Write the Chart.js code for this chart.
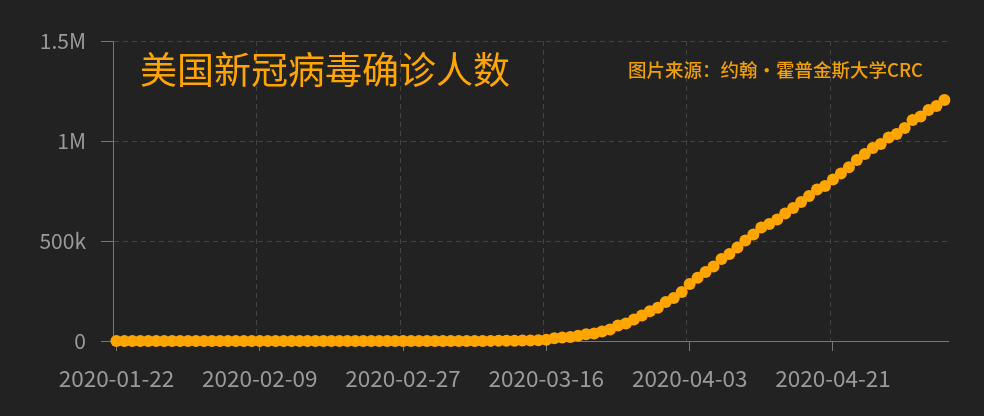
<!DOCTYPE html>
<html>
<head>
<meta charset="utf-8">
<script src="https://cdn.jsdelivr.net/npm/chart.js@4.4.0/dist/chart.umd.min.js"></script>
<style>
  html, body { margin: 0; padding: 0; background: #222222; }
  #wrap { position: relative; width: 984px; height: 416px; background: #222222; }
  #title {
    position: absolute; left: 140px; top: 50px;
    font-family: "Noto Sans CJK SC", sans-serif; font-size: 37px; line-height: 37px;
    color: #ffa500; white-space: nowrap;
  }
  #source {
    position: absolute; right: 61px; top: 60px;
    font-family: "Noto Sans CJK SC", sans-serif; font-size: 18.5px; line-height: 18.5px;
    font-weight: 500; color: #f0a000; white-space: nowrap;
  }
</style>
</head>
<body>
<div id="wrap">
  <canvas id="chart" width="984" height="416"></canvas>
  <div id="title">美国新冠病毒确诊人数</div>
  <div id="source">图片来源：约翰·霍普金斯大学CRC</div>
</div>
<script>
// dates, one per point
const dates = [
  '2020-01-22','2020-01-23','2020-01-24','2020-01-25','2020-01-26','2020-01-27','2020-01-28','2020-01-29','2020-01-30','2020-01-31',
  '2020-02-01','2020-02-02','2020-02-03','2020-02-04','2020-02-05','2020-02-06','2020-02-07','2020-02-08','2020-02-09','2020-02-10',
  '2020-02-11','2020-02-12','2020-02-13','2020-02-14','2020-02-15','2020-02-16','2020-02-17','2020-02-18','2020-02-19','2020-02-20',
  '2020-02-21','2020-02-22','2020-02-23','2020-02-24','2020-02-25','2020-02-26','2020-02-27','2020-02-28','2020-02-29',
  '2020-03-01','2020-03-02','2020-03-03','2020-03-04','2020-03-05','2020-03-06','2020-03-07','2020-03-08','2020-03-09','2020-03-10',
  '2020-03-11','2020-03-12','2020-03-13','2020-03-14','2020-03-15','2020-03-16','2020-03-17','2020-03-18','2020-03-19','2020-03-20',
  '2020-03-21','2020-03-22','2020-03-23','2020-03-24','2020-03-25','2020-03-26','2020-03-27','2020-03-28','2020-03-29','2020-03-30','2020-03-31',
  '2020-04-01','2020-04-02','2020-04-03','2020-04-04','2020-04-05','2020-04-06','2020-04-07','2020-04-08','2020-04-09','2020-04-10',
  '2020-04-11','2020-04-12','2020-04-13','2020-04-14','2020-04-15','2020-04-16','2020-04-17','2020-04-18','2020-04-19','2020-04-20',
  '2020-04-21','2020-04-22','2020-04-23','2020-04-24','2020-04-25','2020-04-26','2020-04-27','2020-04-28','2020-04-29','2020-04-30',
  '2020-05-01','2020-05-02','2020-05-03','2020-05-04','2020-05-05'
];

// cumulative confirmed cases
const confirmed = [
  1, 1, 2, 2, 5, 5, 5, 6, 6, 8,
  8, 8, 11, 11, 11, 12, 12, 12, 12, 12,
  13, 13, 14, 14, 14, 14, 14, 14, 14, 14,
  16, 16, 16, 16, 16, 16, 17, 17, 25,
  32, 55, 74, 107, 184, 237, 403, 519, 594, 782,
  1147, 1586, 2219, 2978, 3500, 6000, 14000, 17000, 20000, 26000,
  34000, 37000, 48000, 58000, 77000, 87000, 107000, 127000, 149000, 166000, 195000,
  215000, 245000, 285000, 316000, 345000, 373000, 410000, 435000, 467000, 503000,
  533000, 567000, 585000, 607000, 637000, 665000, 695000, 725000, 757000, 775000,
  807000, 838000, 869000, 905000, 935000, 965000, 985000, 1017000, 1035000, 1065000,
  1105000, 1123000, 1155000, 1175000, 1205000
];

const xTickLabels = ['2020-01-22', '2020-02-09', '2020-02-27', '2020-03-16', '2020-04-03', '2020-04-21'];
const yTicks = [0, 500000, 1000000, 1500000];

const orange = '#ffa500';
const axisGray = '#777777';
const gridGray = '#444444';
const labelGray = '#9a9a9a';
const font = '"Noto Sans CJK SC", sans-serif';

// vertical dashed grid, split from the axis start like the original
const splitLines = {
  id: 'splitLines',
  beforeDatasetsDraw(chart) {
    const x = chart.scales.x, area = chart.chartArea, c = chart.ctx;
    c.save();
    c.strokeStyle = gridGray;
    c.lineWidth = 1;
    c.setLineDash([5, 4]);
    for (let k = 1; k < xTickLabels.length; k++) {
      const px = Math.round(x.getPixelForValue(x.min + 18 * k)) + 0.5;
      c.beginPath();
      c.moveTo(px, area.top);
      c.lineTo(px, area.bottom);
      c.stroke();
    }
    c.restore();
  }
};

new Chart(document.getElementById('chart'), {
  type: 'line',
  data: {
    datasets: [{
      data: confirmed.map((v, i) => ({ x: i, y: v })),
      borderColor: orange,
      backgroundColor: orange,
      borderWidth: 2,
      pointRadius: 6,
      pointHoverRadius: 6,
      pointBorderWidth: 0,
      pointBackgroundColor: orange,
      clip: false
    }]
  },
  options: {
    responsive: false,
    animation: false,
    devicePixelRatio: 1,
    layout: { padding: { top: 41, right: 36, bottom: 0, left: 0 } },
    plugins: { legend: { display: false }, tooltip: { enabled: false } },
    scales: {
      x: {
        type: 'linear',
        min: -0.43,
        max: 104.45,
        afterFit(scale) { scale.height = 75; },
        afterBuildTicks(scale) {
          scale.ticks = xTickLabels.map(l => ({ value: dates.indexOf(l) }));
        },
        ticks: {
          autoSkip: false,
          maxRotation: 0,
          padding: 14,
          color: labelGray,
          font: { family: font, size: 22.5 },
          callback: v => dates[v]
        },
        grid: { drawOnChartArea: false, tickLength: 10, tickColor: axisGray },
        border: { color: axisGray, width: 1 }
      },
      y: {
        min: 0,
        max: 1500000,
        afterFit(scale) { scale.width = 113; },
        afterBuildTicks(scale) {
          scale.ticks = yTicks.map(v => ({ value: v }));
        },
        ticks: {
          padding: 15,
          color: labelGray,
          font: { family: font, size: 21 },
          callback: v => v === 0 ? '0' : (v >= 1000000 ? (v / 1000000) + 'M' : (v / 1000) + 'k')
        },
        grid: {
          color: ctx => ctx.tick && ctx.tick.value === 0 ? 'rgba(0,0,0,0)' : gridGray,
          tickLength: 12,
          tickColor: axisGray
        },
        border: { color: axisGray, width: 1, dash: [5, 4] }
      }
    }
  },
  plugins: [splitLines]
});
</script>
</body>
</html>
